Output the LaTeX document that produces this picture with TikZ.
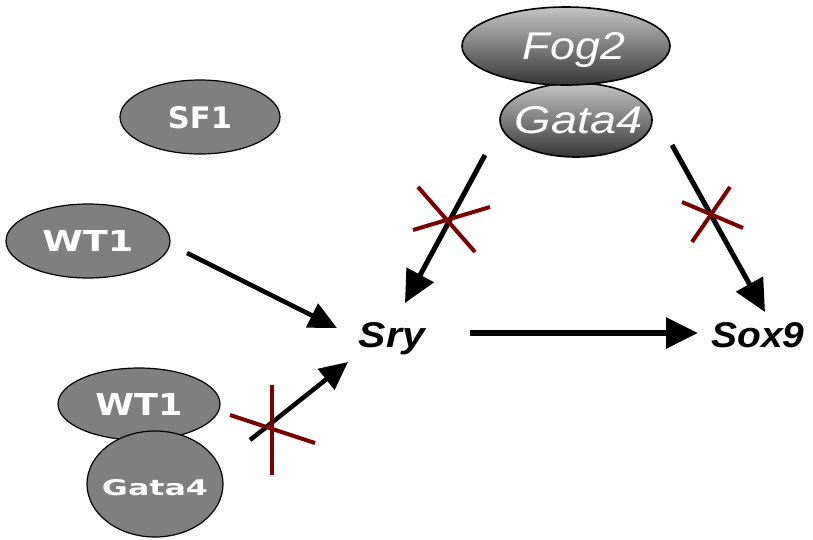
\documentclass[tikz,border=0pt]{standalone}
\usepackage{fontspec}
\usepackage{graphicx}
\usetikzlibrary{shapes.geometric,arrows.meta}
\newfontfamily\tagfont{DejaVu Sans}
\newfontfamily\genefont{Liberation Sans}
\definecolor{knockred}{HTML}{7A0000}
\definecolor{protgray}{HTML}{7F7F7F}
\definecolor{shadelight}{HTML}{C4C4C4}
\definecolor{shadedark}{HTML}{363636}
% label text stretched to a given box, taking no width inside its shape
\newcommand\tagtext[3]{\makebox[0pt]{\resizebox{#1}{#2}{\tagfont\bfseries #3}}}
\newcommand\italtext[3]{\makebox[0pt]{\resizebox{#1}{#2}{\genefont\itshape #3}}}
\newcommand\genetext[3]{\resizebox{#1}{#2}{\genefont\bfseries\itshape #3}}

\begin{document}
\begin{tikzpicture}[x=1pt,y=-1pt,
  protein/.style={ellipse, draw=black, line width=1.2pt, fill=protgray,
    inner sep=0pt, text=white, text depth=0pt},
  complex/.style={ellipse, draw=black, line width=1.6pt, top color=shadelight,
    bottom color=shadedark, inner sep=0pt, text=white, text depth=0pt},
  gene/.style={text=black, anchor=base, inner sep=0pt},
  activates/.style={-{Triangle[length=32pt,width=30pt]}, line width=5pt},
  activates small/.style={-{Triangle[length=28pt,width=26pt]}, line width=4.5pt},
  blocked/.style={draw=knockred, line width=4pt}]

\useasboundingbox (0,0) rectangle (813,539);

% Fog2 / Gata4 complex
\node[complex, minimum width=152pt, minimum height=74pt] (gatatop) at (576,120)
  {\hspace*{6pt}\italtext{128pt}{27pt}{Gata4}};
\node[complex, minimum width=208pt, minimum height=78pt] (fog) at (566,46)
  {\hspace*{16pt}\italtext{102pt}{27pt}{Fog2}};

% single factors
\node[protein, minimum width=160pt, minimum height=74pt] (sf) at (200,117)
  {\tagtext{64pt}{22pt}{SF1}};
\node[protein, minimum width=164pt, minimum height=74pt] (wta) at (88,241)
  {\tagtext{91pt}{21pt}{WT1}};

% WT1 / Gata4 complex
\node[protein, minimum width=162pt, minimum height=72pt] (wtb) at (139,404)
  {\tagtext{87pt}{22pt}{WT1}};
\node[protein, minimum width=136pt, minimum height=106pt] (gatab) at (155,484)
  {\raisebox{-6pt}{\tagtext{106pt}{16pt}{Gata4}}};

% target genes
\node[gene] (sry) at (392,347) {\genetext{66pt}{25pt}{Sry}};
\node[gene] (sox) at (758,347) {\genetext{93pt}{25pt}{Sox9}};

% connector end points
\coordinate (wtaout) at (187,253);
\coordinate (sryinA) at (337,328);
\coordinate (wtbout) at (250,440);
\coordinate (sryinB) at (348,362);
\coordinate (complexoutL) at (485,155);
\coordinate (sryinC) at (405,303);
\coordinate (complexoutR) at (672,145);
\coordinate (soxinA) at (765,312);
\coordinate (sryout) at (470,333);
\coordinate (soxinB) at (698,333);

\draw[activates small] (wtaout) -- (sryinA);
\draw[activates small] (wtbout) -- (sryinB);
\draw[activates] (complexoutL) -- (sryinC);
\draw[activates] (complexoutR) -- (soxinA);
\draw[activates, line width=6pt] (sryout) -- (soxinB);

% blocked interactions
\draw[blocked] (418,187) -- (475,252);
\draw[blocked] (413,230) -- (490,207);
\draw[blocked] (682,202) -- (743,228);
\draw[blocked] (730,187) -- (692,242);
\draw[blocked] (272,385) -- (272,475);
\draw[blocked] (230,415) -- (315,443);
\end{tikzpicture}
\end{document}
